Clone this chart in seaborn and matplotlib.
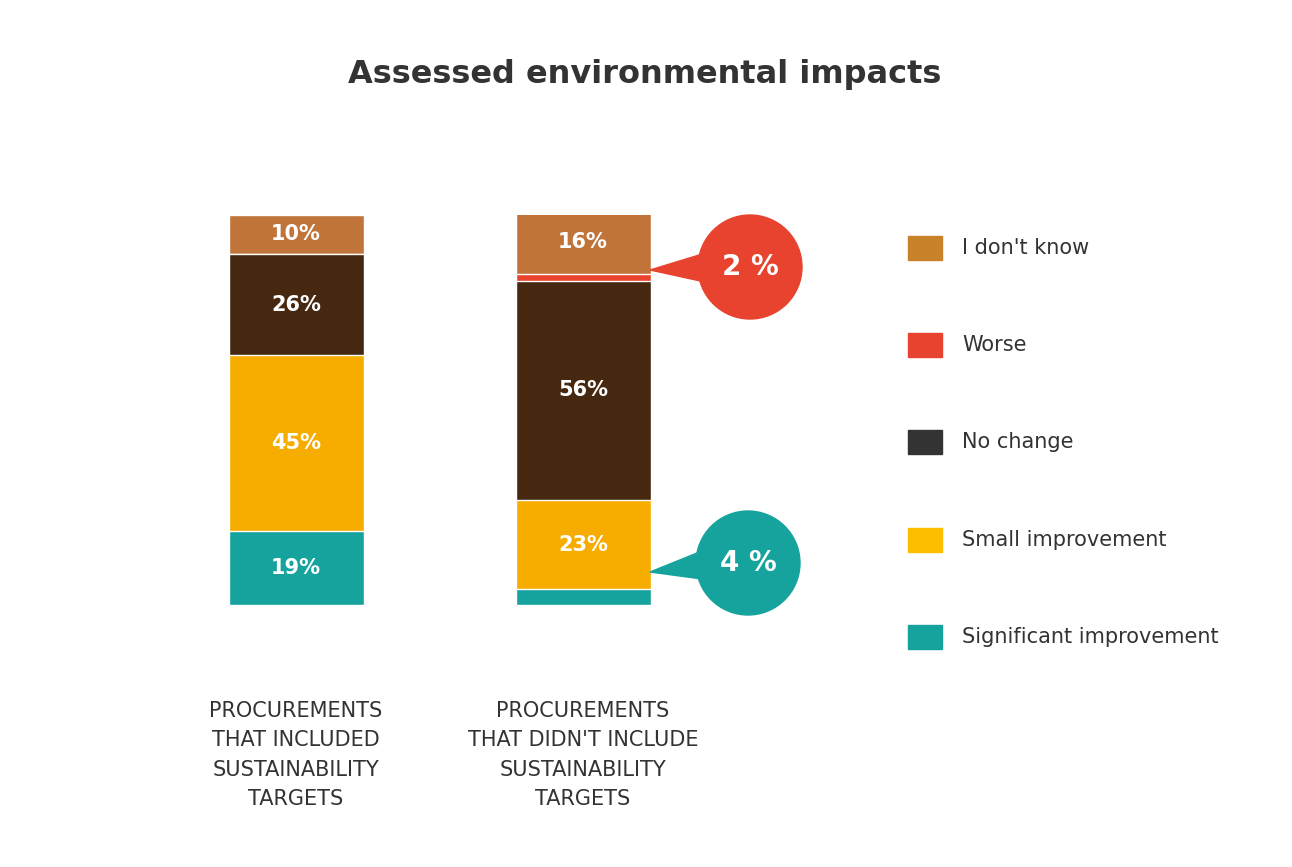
import matplotlib
matplotlib.use("Agg")
import matplotlib.pyplot as plt
import seaborn as sns
import pandas as pd
import numpy as np
from matplotlib.patches import Ellipse, Polygon, Rectangle

categories = ["PROCUREMENTS\nTHAT INCLUDED\nSUSTAINABILITY\nTARGETS",
              "PROCUREMENTS\nTHAT DIDN'T INCLUDE\nSUSTAINABILITY\nTARGETS"]
series = ["Significant improvement", "Small improvement", "No change", "Worse", "I don't know"]
significant = [19, 4]
small = [45, 23]
no_change = [26, 56]
worse = [0, 2]
dont_know = [10, 16]
bar_colors = ["#16A39E", "#F7AC00", "#46270F", "#E8432E", "#C0743A"]
legend_colors = {"I don't know": "#C8822A", "Worse": "#E8432E", "No change": "#333333",
                 "Small improvement": "#FDBE00", "Significant improvement": "#16A39E"}

sns.set_theme(style="white")
W, H = 1292, 867
fig = plt.figure(figsize=(W/100, H/100), dpi=100)
ax = fig.add_axes([150/W, 262/H, 580/W, 390/H])

vals = [significant, small, no_change, worse, dont_know]
cum = np.cumsum(np.array(vals, dtype=float), axis=0)
x = [0, 1]
# draw from top down so each layer overlays
for i in range(len(series)-1, -1, -1):
    df = pd.DataFrame({"x": x, "y": cum[i]})
    sns.barplot(data=df, x="x", y="y", color=bar_colors[i], width=0.47,
                ax=ax, saturation=1, native_scale=True)
ax.set_xlim(-0.509, 0.512 + 1)
ax.set_ylim(0, 100)
ax.axis("off")

for j in range(2):
    for i in range(len(series)):
        v = vals[i][j]
        if v >= 5:
            mid = cum[i][j] - v/2
            ax.text(j, mid, f"{v}%", ha="center", va="center", color="white",
                    fontsize=15, fontweight="bold")

for j, c in enumerate(categories):
    cx = [296, 583][j]
    fig.text(cx/W, 1-755/H, c, ha="center", va="center", fontsize=15,
             color="#333333", linespacing=1.6)

fig.text(645/W, 1-75/H, "Assessed environmental impacts", ha="center", va="center",
         fontsize=23, fontweight="bold", color="#333333")

# callouts
def callout(cx, cy, r, color, text, tip):
    fig.patches.append(Polygon([((cx-r*0.6)/W, 1-(cy-18)/H), ((cx-r*0.6)/W, 1-(cy+18)/H),
                                (tip[0]/W, 1-tip[1]/H)], closed=True, color=color,
                               transform=fig.transFigure))
    fig.patches.append(Ellipse((cx/W, 1-cy/H), 2*r/W, 2*r/H, color=color,
                               transform=fig.transFigure))
    fig.text(cx/W, 1-cy/H, text, ha="center", va="center", color="white",
             fontsize=20, fontweight="bold")

callout(750, 267, 52, "#E8432E", f"{worse[1]} %", (650, 270))
callout(748, 563, 52, "#16A39E", f"{significant[1]} %", (650, 572))

# legend
ys = [248, 345, 442, 540, 637]
for name, y in zip(["I don't know", "Worse", "No change", "Small improvement",
                    "Significant improvement"], ys):
    fig.patches.append(Rectangle((908/W, 1-(y+12)/H), 34/W, 24/H,
                                 color=legend_colors[name], transform=fig.transFigure))
    fig.text(962/W, 1-y/H, name, ha="left", va="center", fontsize=15, color="#333333")

fig.savefig("out.png", dpi=100, facecolor="white")
